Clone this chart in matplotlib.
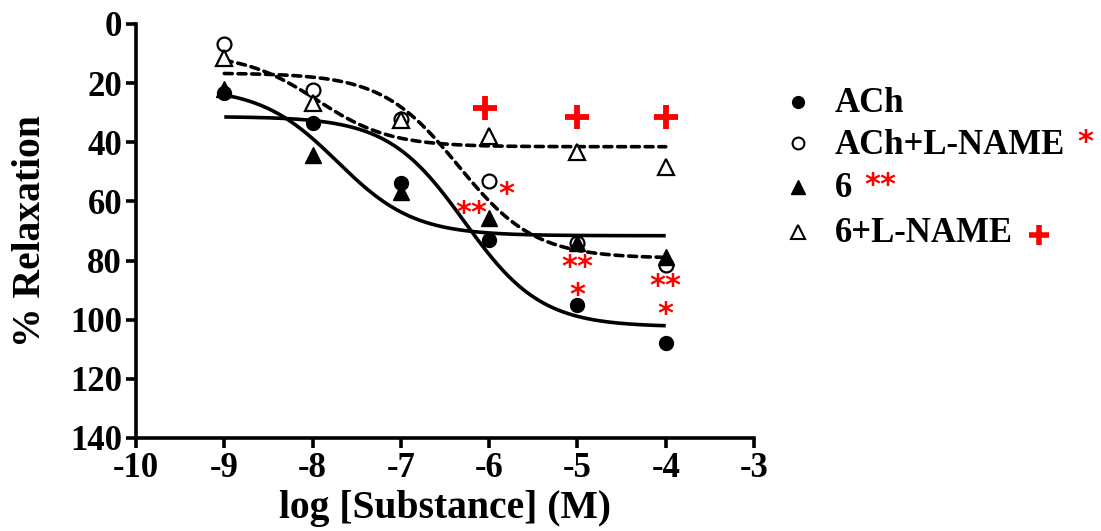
import numpy as np
import matplotlib
matplotlib.use("Agg")
import matplotlib.pyplot as plt
from matplotlib.transforms import offset_copy

# ---- data ----
log_conc = [-9, -8, -7, -6, -5, -4]
ach = [23.3, 33.5, 53.8, 73.0, 95.0, 108.0]
ach_lname = [6.8, 22.3, 32.0, 53.1, 74.0, 81.5]
cmp6 = [22.0, 44.3, 56.7, 65.5, 74.0, 78.7]
cmp6_lname = [11.6, 26.8, 32.5, 37.9, 43.2, 48.2]

# sigmoid fit parameters: top, bottom, logEC50, hill
fit_ach = [31.3, 102.4, -6.28, 1.0]
fit_ach_lname = [16.6, 79.2, -6.35, 1.0]
fit_cmp6 = [21.5, 71.6, -7.72, 1.0]
fit_cmp6_lname = [10.0, 41.5, -7.95, 1.05]

# significance marks (x, y, text)
sig_x = [-6.05, -5.0, -4.0, -5.8, -6.2, -5.0, -5.0, -4.0, -4.0]
sig_y = [28.5, 31.6, 31.6, 55.6, 62.0, 80.4, 89.7, 86.6, 96.2]
sig_t = ['+', '+', '+', '*', '**', '**', '*', '**', '*']

legend_labels = ['ACh', 'ACh+L-NAME', '6', '6+L-NAME']
legend_sig = ['', '*', '**', '+']

serif = ['Liberation Serif', 'DejaVu Serif']
sans_b = ['DejaVu Sans']

W, H = 1101, 531
fig = plt.figure(figsize=(W / 100, H / 100), dpi=100)
ax = fig.add_axes([136 / W, 1 - 438 / H, (754 - 136) / W, (438 - 24) / H])


def sigmoid(x, p):
    top, bottom, ec50, h = p
    return top + (bottom - top) / (1 + 10 ** ((ec50 - x) * h))


xs = np.linspace(-9, -4, 300)
lw = 2.6
ax.plot(xs, sigmoid(xs, fit_ach), color='black', lw=lw, solid_capstyle='butt', zorder=2)
ax.plot(xs, sigmoid(xs, fit_cmp6), color='black', lw=lw, solid_capstyle='butt', zorder=2)
ax.plot(xs, sigmoid(xs, fit_ach_lname), color='black', lw=lw, ls=(0, (2.2, 1.6)),
        dash_capstyle='round', zorder=2)
ax.plot(xs, sigmoid(xs, fit_cmp6_lname), color='black', lw=lw, ls=(0, (2.2, 1.6)),
        dash_capstyle='round', zorder=2)

ms = 10
ax.plot(log_conc, ach, 'o', color='black', ms=ms, zorder=3)
ax.plot(log_conc, ach_lname, 'o', mfc='white', mec='black', mew=1.6, ms=ms, zorder=3)
ax.plot(log_conc, cmp6, '^', color='black', ms=ms + 1, zorder=4)
ax.plot(log_conc, cmp6_lname, '^', mfc='white', mec='black', mew=1.6, ms=ms + 1, zorder=4)

# asterisk glyphs sit high in the text box: shift them down a few pixels
star_tr = offset_copy(ax.transData, fig=fig, x=0, y=-6, units='dots')
for x, y, t in zip(sig_x, sig_y, sig_t):
    if t == '+':
        ax.plot([x], [y], marker='+', color='red', ms=17, mew=4.2, zorder=5)
    else:
        ax.text(x, y, t, color='red', fontsize=22, fontweight='bold', family=sans_b,
                ha='center', va='center', zorder=5, transform=star_tr)

ax.set_xlim(-10, -3)
ax.set_ylim(140, 0)
ax.set_xticks(range(-10, -2))
ax.set_yticks(range(0, 141, 20))
ax.set_xticklabels([str(v) for v in range(-10, -2)])
for s in ['top', 'right']:
    ax.spines[s].set_visible(False)
for s in ['left', 'bottom']:
    ax.spines[s].set_linewidth(2.6)
ax.tick_params(direction='out', length=7, width=2.6, pad=3)
for lab in ax.get_xticklabels() + ax.get_yticklabels():
    lab.set_fontfamily(serif)
    lab.set_fontweight('bold')
    lab.set_fontsize(25)
ax.set_xlabel('log [Substance] (M)', fontsize=28.5, fontweight='bold', family=serif, labelpad=4)
ax.set_ylabel('% Relaxation', fontsize=28.5, fontweight='bold', family=serif, labelpad=15)

# legend (drawn in figure pixel coordinates)
lax = fig.add_axes([0, 0, 1, 1], facecolor='none')
lax.set_xlim(0, W)
lax.set_ylim(H, 0)
lax.axis('off')
leg_y = [101.7, 143.3, 186.7, 231.7]
leg_m = [dict(marker='o', color='black', ms=8.5),
         dict(marker='o', mfc='white', mec='black', mew=1.5, ms=8.5),
         dict(marker='^', color='black', ms=9.5),
         dict(marker='^', mfc='white', mec='black', mew=1.5, ms=9.5)]
for y, lab, sig, mk in zip(leg_y, legend_labels, legend_sig, leg_m):
    lax.plot([798], [y], ls='none', **mk)
    t = lax.text(835, y + 2, lab, fontsize=25, fontweight='bold', family=serif,
                 ha='left', va='center')
    fig.canvas.draw()
    bb = t.get_window_extent()
    xr = bb.x1 + 12
    if sig == '+':
        lax.plot([xr + 14], [y + 3], marker='+', color='red', ms=15, mew=4.0)
    elif sig:
        lax.text(xr, y - 1, sig, color='red', fontsize=22, fontweight='bold', family=sans_b,
                 ha='left', va='center')

fig.savefig('out.png', dpi=100)
